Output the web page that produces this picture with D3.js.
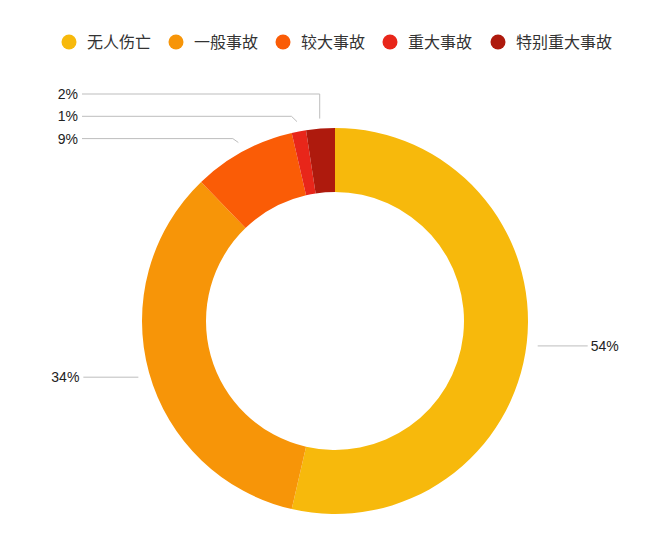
<!DOCTYPE html>
<html>
<head>
<meta charset="utf-8">
<script src="https://cdn.jsdelivr.net/npm/d3@7"></script>
<style>
  body { margin: 0; background: #fff; }
  svg { display: block; }
</style>
</head>
<body>
<div id="chart"></div>
<script>
// Data
const categories = ["无人伤亡", "一般事故", "较大事故", "重大事故", "特别重大事故"];
const shares = [53.6, 34.2, 8.6, 1.2, 2.4];
const shareLabels = ["54%", "34%", "9%", "1%", "2%"];
const colors = ["#f7b90c", "#f79508", "#fa5c06", "#e8261a", "#ae1a0d"];

const width = 660;
const height = 547;
const cx = 335, cy = 321;
const outerR = 193, innerR = 129;

const svg = d3.select("#chart")
    .append("svg")
    .attr("width", width)
    .attr("height", height);

// Legend
const legendX = [69, 176, 283, 390, 498];
const legend = svg.append("g").attr("class", "legend");
categories.forEach((c, i) => {
    const g = legend.append("g").attr("transform", `translate(${legendX[i]},42)`);
    g.append("circle").attr("r", 7.5).attr("fill", colors[i]);
    g.append("text")
        .attr("x", 18)
        .attr("dy", "0.36em")
        .attr("font-family", "'Noto Sans CJK SC', sans-serif")
        .attr("font-size", 16)
        .attr("fill", "#333")
        .text(c);
});

// Donut
const pie = d3.pie().sort(null).value(d => d)(shares);
const arc = d3.arc().innerRadius(innerR).outerRadius(outerR);
const chart = svg.append("g").attr("transform", `translate(${cx},${cy})`);

chart.selectAll("path")
    .data(pie)
    .enter().append("path")
    .attr("d", arc)
    .attr("fill", (d, i) => colors[i]);

// Leader lines and labels
const tipR = outerR + 10;
function tip(d) {
    const a = (d.startAngle + d.endAngle) / 2;
    return [cx + tipR * Math.sin(a), cy - tipR * Math.cos(a)];
}

const labelFont = "'Liberation Sans', Arial, sans-serif";
const lines = svg.append("g").attr("class", "leaders");

pie.forEach((d, i) => {
    const [ex, ey] = tip(d);
    let pts, tx, ty, anchor;
    if (i === 0) {
        // right side
        pts = [[ex + 1, ey + 2], [ex + 51, ey + 2]];
        tx = ex + 54; ty = ey + 2; anchor = "start";
    } else if (i === 1) {
        // left side
        pts = [[ex - 1, ey + 2], [ex - 56, ey + 2]];
        tx = ex - 60; ty = ey + 2; anchor = "end";
    } else {
        // stacked labels above left
        const slot = { 4: 0, 3: 1, 2: 2 }[i];
        ty = 94 + slot * 22.3;
        tx = 78; anchor = "end";
        const bendX = (ey - ty) < 8 ? ex - 5.5 : ex;
        pts = [[82, ty], [bendX, ty], [ex, ey]];
    }
    lines.append("path")
        .attr("d", d3.line()(pts))
        .attr("fill", "none")
        .attr("stroke", "#bdbdbd")
        .attr("stroke-width", 1);
    svg.append("text")
        .attr("x", tx)
        .attr("y", ty)
        .attr("dy", "0.36em")
        .attr("text-anchor", anchor)
        .attr("font-family", labelFont)
        .attr("font-size", 14)
        .attr("fill", "#222")
        .text(shareLabels[i]);
});
</script>
</body>
</html>
